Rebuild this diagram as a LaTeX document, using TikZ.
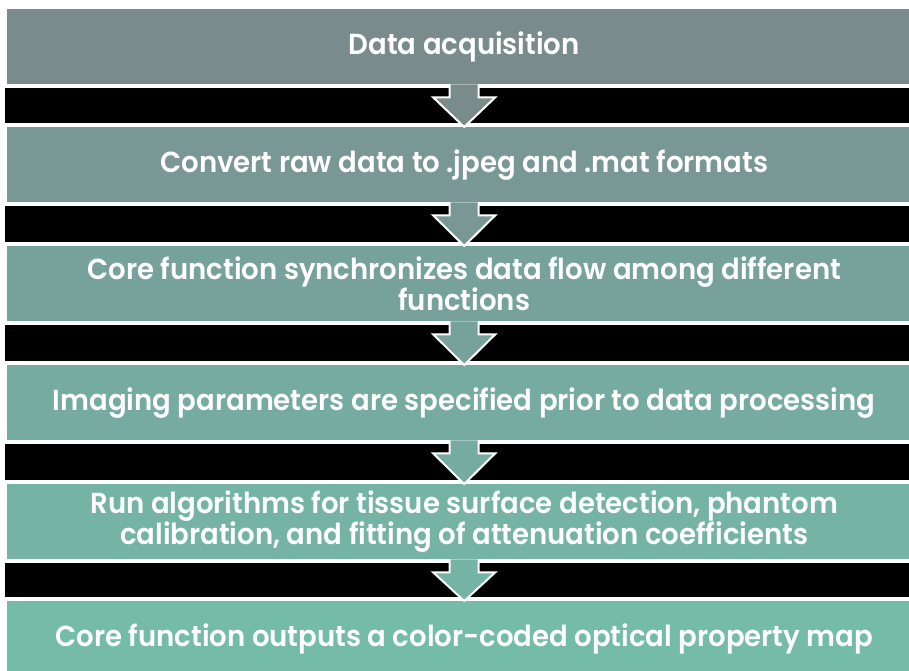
\documentclass[tikz,border=0pt]{standalone}
\usepackage{fontspec}
\setmainfont{Poppins}[FakeStretch=0.95, BoldFont={Poppins SemiBold}]
\usetikzlibrary{calc}

\definecolor{stageA}{HTML}{7A8B8B}
\definecolor{stageB}{HTML}{789795}
\definecolor{stageC}{HTML}{77A19B}
\definecolor{stageD}{HTML}{76ABA1}
\definecolor{stageE}{HTML}{75B4A5}
\definecolor{stageF}{HTML}{74BCA7}

\tikzset{
  stage/.style={fill=#1, anchor=north west, minimum width=914pt, minimum height=75pt,
    inner sep=0pt, text=white, align=center, font=\fontsize{29}{31.5}\selectfont\bfseries},
  band/.style={fill=black},
  flow/.style={fill=#1, draw=white, line width=2pt, line join=miter}
}

\begin{document}
\begin{tikzpicture}[x=1pt,y=-1pt]
\useasboundingbox[fill=white] (0,0) rectangle (909,670);

% stages
\node[stage=stageA] (acq) at (7,9) {Data acquisition};
\node[stage=stageB] (conv) at (7,127) {Convert raw data to .jpeg and .mat formats};
\node[stage=stageC] (core) at (7,246) {Core function synchronizes data flow among different\\functions};
\node[stage=stageD] (param) at (7,365) {Imaging parameters are specified prior to data processing};
\node[stage=stageE] (algo) at (7,484) {Run algorithms for tissue surface detection, phantom\\calibration, and fitting of attenuation coefficients};
\node[stage=stageF] (map) at (7,601) {Core function outputs a color-coded optical property map};

% black bands
\fill[band] ($(acq.south west)+(-2,4)$) rectangle ($(conv.north east)+(0,-4)$);
\fill[band] ($(conv.south west)+(-2,4)$) rectangle ($(core.north east)+(0,-4)$);
\fill[band] ($(core.south west)+(-2,4)$) rectangle ($(param.north east)+(0,-4)$);
\fill[band] ($(param.south west)+(-2,4)$) rectangle ($(algo.north east)+(0,-4)$);
\fill[band] ($(algo.south west)+(-2,4)$) rectangle ($(map.north east)+(0,-4)$);

% arrows
\draw[flow=stageA] ($(acq.south)+(-14.5,0)$) -- ($(acq.south)+(-14.5,13)$) -- ($(acq.south)+(-31,13)$)
  -- (conv.north) -- ($(acq.south)+(31,13)$) -- ($(acq.south)+(14.5,13)$) -- ($(acq.south)+(14.5,0)$);
\draw[flow=stageB] ($(conv.south)+(-14.5,0)$) -- ($(conv.south)+(-14.5,13)$) -- ($(conv.south)+(-31,13)$)
  -- (core.north) -- ($(conv.south)+(31,13)$) -- ($(conv.south)+(14.5,13)$) -- ($(conv.south)+(14.5,0)$);
\draw[flow=stageC] ($(core.south)+(-14.5,0)$) -- ($(core.south)+(-14.5,13)$) -- ($(core.south)+(-31,13)$)
  -- (param.north) -- ($(core.south)+(31,13)$) -- ($(core.south)+(14.5,13)$) -- ($(core.south)+(14.5,0)$);
\draw[flow=stageD] ($(param.south)+(-14.5,0)$) -- ($(param.south)+(-14.5,13)$) -- ($(param.south)+(-31,13)$)
  -- (algo.north) -- ($(param.south)+(31,13)$) -- ($(param.south)+(14.5,13)$) -- ($(param.south)+(14.5,0)$);
\draw[flow=stageE] ($(algo.south)+(-14.5,0)$) -- ($(algo.south)+(-14.5,13)$) -- ($(algo.south)+(-31,13)$)
  -- (map.north) -- ($(algo.south)+(31,13)$) -- ($(algo.south)+(14.5,13)$) -- ($(algo.south)+(14.5,0)$);
\end{tikzpicture}
\end{document}
